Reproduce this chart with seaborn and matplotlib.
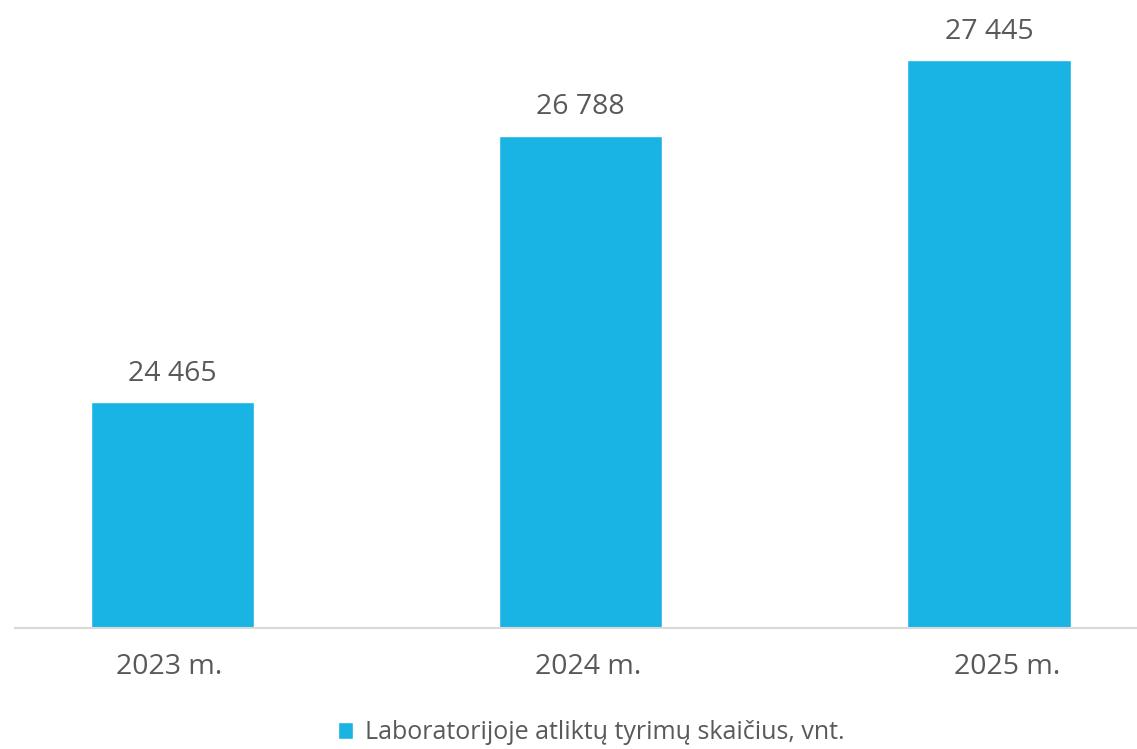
import matplotlib
matplotlib.use("Agg")
import matplotlib.pyplot as plt
import seaborn as sns
import pandas as pd

years = ["2023 m.", "2024 m.", "2025 m."]
values = [24465, 26788, 27445]
series_name = "Laboratorijoje atliktų tyrimų skaičius, vnt."
value_labels = ["24 465", "26 788", "27 445"]

sns.set_style("white")
plt.rcParams["font.family"] = ["Open Sans", "DejaVu Sans"]

BAR = "#19B4E3"
TXT = "#595959"

df = pd.DataFrame({"year": years, "value": values, "series": [series_name] * len(years)})

fig = plt.figure(figsize=(11.37, 7.49), dpi=100)
ax = fig.add_axes([15 / 1137, 121.5 / 749, 1 - 15 / 1137, 631 / 749])

sns.barplot(data=df, x="year", y="value", hue="series", palette=[BAR],
            width=0.4, dodge=False, saturation=1, ax=ax, legend=True)

ax.set_ylim(22500, 28000)
ax.set_xlim(-0.386, 2.3626)

for i, (v, lab) in enumerate(zip(values, value_labels)):
    ax.annotate(lab, xy=(i, v), xytext=(0, 15.5), textcoords="offset points",
                ha="center", va="baseline", fontsize=20.5, color=TXT)

# category labels (slightly drifting to the right, as in the original)
label_drift_pt = 7.5
for i, yr in enumerate(years):
    ax.annotate(yr, xy=(i, 0), xycoords=ax.get_xaxis_transform(),
                xytext=(-2.2 + label_drift_pt * i, -33.5), textcoords="offset points",
                ha="center", va="baseline", fontsize=20.5, color=TXT,
                annotation_clip=False)

for s in ["top", "left", "right"]:
    ax.spines[s].set_visible(False)
ax.spines["bottom"].set_color("#D9D9D9")
ax.spines["bottom"].set_linewidth(1.5)
ax.set_yticks([])
ax.set_xlabel("")
ax.set_ylabel("")
ax.tick_params(axis="x", length=0, labelbottom=False)

leg = ax.legend(loc="center", bbox_to_anchor=(0.52, 0.0215), bbox_transform=fig.transFigure,
                frameon=False, fontsize=18, handlelength=0.62, handleheight=0.62,
                handletextpad=0.47, labelcolor=TXT)

fig.savefig("out.png", dpi=100)
